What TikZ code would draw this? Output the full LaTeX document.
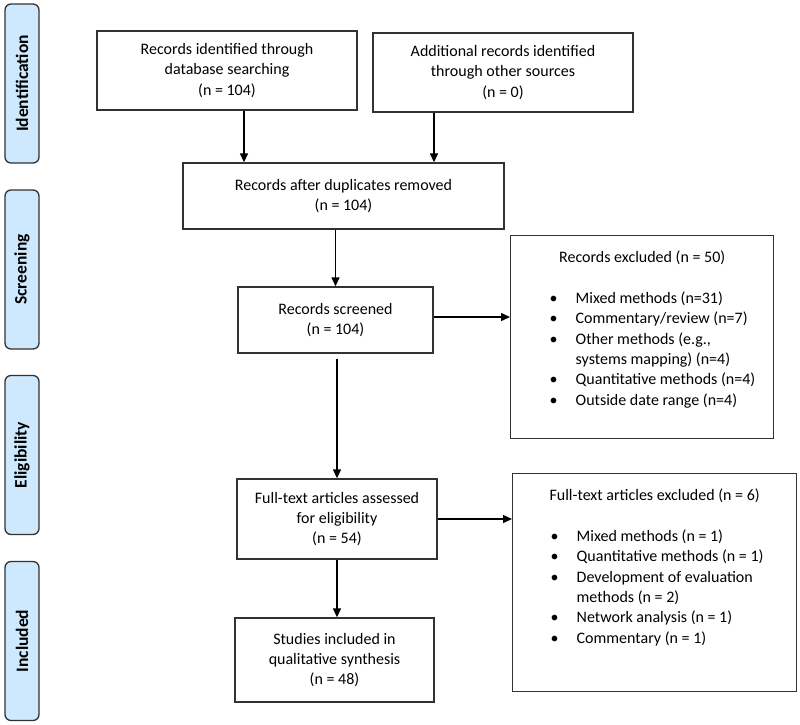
\documentclass[tikz,border=0pt]{standalone}
\usepackage{fontspec}
\setmainfont{Carlito}
\usepackage{tikz}
\usetikzlibrary{arrows.meta, calc}
\definecolor{Stage}{RGB}{206,233,253}
\definecolor{Edge}{RGB}{50,50,50}

\tikzset{
    box/.style={draw=Edge, line width=1.4pt, align=center, inner sep=2pt,
        font=\fontsize{16}{20.4}\selectfont},
    stage/.style={draw=Edge, fill=Stage, line width=1.3pt, rounded corners=6pt,
        minimum width=159pt, minimum height=34pt, rotate=90,
        font=\fontsize{17.5}{20}\selectfont\bfseries},
    arr/.style={draw=black, line width=1.4pt, -{Triangle[length=9pt,width=8pt]}}
}
\newcommand{\exbox}[5]{\parbox[t][#1][t]{#2}{{\centering #3\par}\vspace{20.4pt}
    \noindent\hspace*{#4}\begin{tabular}[t]{@{}p{26pt}@{}l@{}}#5\end{tabular}}}

\begin{document}
\begin{tikzpicture}[x=1pt, y=-1pt]
    %% Background
    \useasboundingbox (0,0) rectangle (800,724);

    %% Stages
    \node[stage] (ident) at (22,83.5) {Identification};
    \node[stage] (screen) at (22,269.5) {Screening};
    \node[stage] (elig) at (22,455) {Eligibility};
    \node[stage] (incl) at (22,641) {Included};

    %% Flow boxes
    \node[box, minimum width=260pt, minimum height=79pt] (db) at (227,70.5)
        {Records identified through\\database searching\\(n = 104)};
    \node[box, minimum width=260pt, minimum height=79pt] (other) at (503,72.5)
        {Additional records identified\\through other sources\\(n = 0)};
    \node[box, minimum width=321pt, minimum height=66pt] (dup) at (343.5,196)
        {Records after duplicates removed\\(n = 104)};
    \node[box, minimum width=195pt, minimum height=66pt] (screened) at (335.5,320)
        {Records screened\\(n = 104)};
    \node[box, minimum width=200pt, minimum height=80pt] (full) at (337,519)
        {Full-text articles assessed\\for eligibility\\(n = 54)};
    \node[box, minimum width=199pt, minimum height=84pt] (studies) at (334.5,660)
        {Studies included in\\qualitative synthesis\\(n = 48)};

    %% Exclusion boxes
    \node[box, anchor=north west, inner xsep=0pt, inner ysep=15pt] (recex) at (510,235)
        {\exbox{173pt}{263pt}{Records excluded (n = 50)}{39pt}{
            \textbullet & Mixed methods (n=31)\\
            \textbullet & Commentary/review (n=7)\\
            \textbullet & Other methods (e.g.,\\
                        & systems mapping) (n=4)\\
            \textbullet & Quantitative methods (n=4)\\
            \textbullet & Outside date range (n=4)}};
    \node[box, anchor=north west, inner xsep=0pt, inner ysep=15pt] (fullex) at (512,473)
        {\exbox{188pt}{284pt}{Full-text articles excluded (n = 6)}{38pt}{
            \textbullet & Mixed methods (n = 1)\\
            \textbullet & Quantitative methods (n = 1)\\
            \textbullet & Development of evaluation\\
                        & methods (n = 2)\\
            \textbullet & Network analysis (n = 1)\\
            \textbullet & Commentary (n = 1)}};

    %% Connectors
    \draw[arr] ([xshift=17pt]db.south) -- ([xshift=17pt]db.south |- dup.north);
    \draw[arr] ([xshift=-69pt]other.south) -- ([xshift=-69pt]other.south |- dup.north);
    \draw[arr] (screened.north |- dup.south) -- (screened.north);
    \draw[arr] ([yshift=3pt]screened.east) -- ([yshift=3pt]screened.east -| recex.west);
    \draw[arr] ([yshift=-5pt]full.north |- screened.south) -- (full.north);
    \draw[arr] (full.east) -- (full.east -| fullex.west);
    \draw[arr] (full.south) -- (full.south |- studies.north);
\end{tikzpicture}
\end{document}
